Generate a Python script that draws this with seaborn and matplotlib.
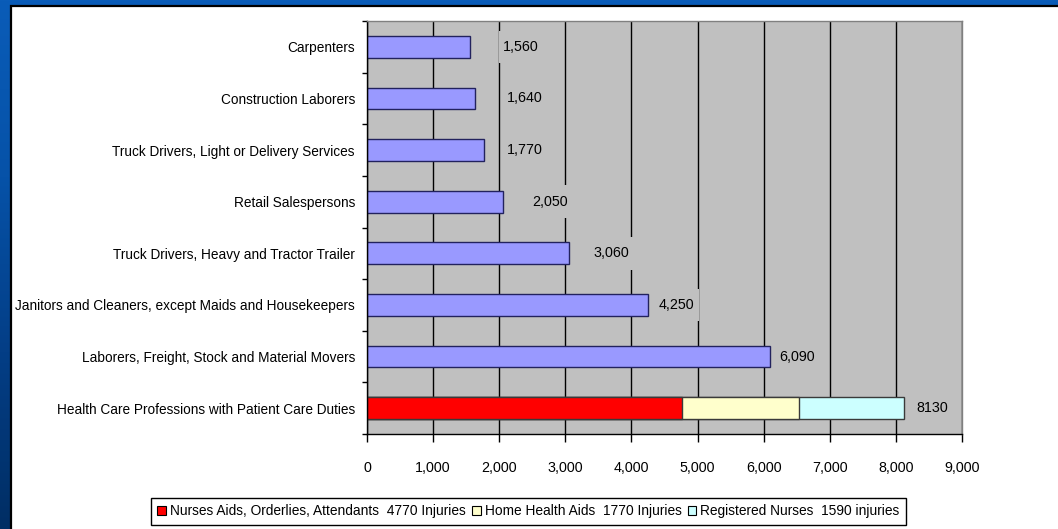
import numpy as np
import pandas as pd
import matplotlib
matplotlib.use("Agg")
import matplotlib.pyplot as plt
import matplotlib.patches as mpatches
from matplotlib.path import Path
from matplotlib.colors import LinearSegmentedColormap
from matplotlib import font_manager
import seaborn as sns

# ---- data -------------------------------------------------------------
occupations = [
    "Carpenters",
    "Construction Laborers",
    "Truck Drivers, Light or Delivery Services",
    "Retail Salespersons",
    "Truck Drivers, Heavy and Tractor Trailer",
    "Janitors and Cleaners, except Maids and Housekeepers",
    "Laborers, Freight, Stock and Material Movers",
]
injuries = [1560, 1640, 1770, 2050, 3060, 4250, 6090]

health_category = "Health Care Professions with Patient Care Duties"
health_segments = [
    "Nurses Aids, Orderlies, Attendants",
    "Home Health Aids",
    "Registered Nurses",
]
health_injuries = [4770, 1770, 1590]
health_units = ["Injuries", "Injuries", "injuries"]

x_ticks = [0, 1000, 2000, 3000, 4000, 5000, 6000, 7000, 8000, 9000]

# ---- styling ------------------------------------------------------------
bar_color = "#9999FF"
bar_edge = "#22225E"
health_colors = ["#FF0000", "#FFFFCC", "#CCFFFF"]
health_edge = "#3A3A3A"
plot_bg = "#C0C0C0"
# gap between bar end and its value label, in pixels
label_gap_px = [33, 31, 23, 30, 24, 11, 10, 12]

W, H, DPI = 1058, 529, 100
PX = 72.0 / DPI  # points per pixel

sns.set_theme(style="white")

available = {f.name for f in font_manager.fontManager.ttflist}
if "Liberation Sans Narrow" in available:
    family = ["Liberation Sans Narrow", "Liberation Sans", "DejaVu Sans"]
    scale = 1.0 / 0.82
else:
    family = ["Liberation Sans", "Arial", "DejaVu Sans"]
    scale = 1.0
plt.rcParams["font.family"] = family
plt.rcParams["text.color"] = "black"

fs_cat = 13.65 * PX * scale    # category names
fs_num = 14.2 * PX * scale     # tick numbers and value labels
fs_leg = 13.8 * PX * scale     # legend entries

fig = plt.figure(figsize=(W / DPI, H / DPI), dpi=DPI)

# slide background and white content panel
bg = fig.add_axes([0, 0, 1, 1], zorder=-10)
grad = np.linspace(0, 1, 256).reshape(-1, 1)
slide_cmap = LinearSegmentedColormap.from_list(
    "slide", ["#0A5CB8", "#0652A8", "#033E86", "#012E64"])
bg.imshow(grad, aspect="auto", cmap=slide_cmap, extent=[0, 1, 0, 1],
          origin="upper")
bg.add_patch(mpatches.Rectangle(
    (10.5 / W, -0.1), 1.2, (H - 6.5) / H + 0.1, transform=bg.transAxes,
    facecolor="white", edgecolor="black", linewidth=1.6, clip_on=False))
bg.set_xlim(0, 1)
bg.set_ylim(0, 1)
bg.axis("off")

# chart area
ax = fig.add_axes([367 / W, 1 - 434 / H, (962 - 367) / W, (434 - 21) / H])
ax.set_facecolor(plot_bg)

order = occupations + [health_category]
df = pd.DataFrame({"occupation": occupations, "injuries": injuries})
sns.barplot(data=df, x="injuries", y="occupation", order=order, orient="h",
            color=bar_color, saturation=1, edgecolor=bar_edge, linewidth=1.0,
            width=0.42, errorbar=None, ax=ax)

# stacked health-care bar: draw running totals from the longest down
cumulative = np.cumsum(health_injuries)
stack = pd.DataFrame({"occupation": [health_category] * len(health_segments),
                      "segment": health_segments,
                      "cumulative": cumulative})
for idx in range(len(stack) - 1, -1, -1):
    sns.barplot(data=stack.iloc[[idx]], x="cumulative", y="occupation",
                order=order, orient="h", color=health_colors[idx],
                saturation=1, edgecolor=health_edge, linewidth=1.0,
                width=0.42, errorbar=None, ax=ax)

ax.set_xlabel("")
ax.set_ylabel("")
ax.set_xlim(x_ticks[0], x_ticks[-1])
ax.set_ylim(len(order) - 0.5, -0.5)

# axes, ticks and grid
ax.set_xticks(x_ticks)
ax.set_xticklabels([f"{v:,.0f}" for v in x_ticks])
ax.set_yticks(np.arange(len(order) + 1) - 0.5)
ax.set_yticklabels([])
ax.set_yticks(np.arange(len(order)), labels=order, minor=True)
ax.tick_params(axis="x", which="major", bottom=True, length=8 * PX,
               width=1.0, color="black", direction="out", pad=19 * PX,
               labelsize=fs_num, labelcolor="black")
ax.tick_params(axis="y", which="major", left=True, length=5 * PX,
               width=1.0, color="black", direction="out")
ax.tick_params(axis="y", which="minor", left=True, length=0,
               pad=12 * PX, labelsize=fs_cat, labelcolor="black")
ax.xaxis.grid(True, color="black", linewidth=1.0)
ax.yaxis.grid(False)
ax.set_axisbelow(True)
for side in ("left", "bottom"):
    ax.spines[side].set_color("black")
    ax.spines[side].set_linewidth(1.0)
for side in ("top", "right"):
    ax.spines[side].set_color("#808080")
    ax.spines[side].set_linewidth(1.0)
    ax.spines[side].set_visible(True)


def label_box(x0, y0, width, height, mutation_size):
    """Data-label backdrop: narrow side margins, tall top/bottom margins."""
    px = 0.28 * mutation_size
    py = 0.65 * mutation_size
    xa, xb = x0 - px, x0 + width + px
    ya, yb = y0 - py, y0 + height + py
    return Path([(xa, ya), (xb, ya), (xb, yb), (xa, yb), (xa, ya)],
                closed=True)


label_values = injuries + [int(cumulative[-1])]
label_texts = [f"{v:,.0f}" for v in injuries] + [f"{int(cumulative[-1])}"]
for i, (v, txt) in enumerate(zip(label_values, label_texts)):
    ax.annotate(txt, xy=(v, i), xytext=(label_gap_px[i] * PX, 0),
                textcoords="offset points", ha="left", va="center",
                fontsize=fs_num, color="black",
                bbox=dict(boxstyle=label_box, facecolor=plot_bg,
                          edgecolor="none"))

# legend for the stacked segments
handles = [mpatches.Patch(facecolor=c, edgecolor="black", linewidth=0.8)
           for c in health_colors]
labels = [f"{n}  {v} {u}"
          for n, v, u in zip(health_segments, health_injuries, health_units)]
leg = fig.legend(handles, labels, loc="center",
                 bbox_to_anchor=(528.5 / W, 1 - 511.5 / H), ncol=3,
                 frameon=True, fancybox=False, edgecolor="black",
                 framealpha=1, fontsize=fs_leg, handlelength=0.62,
                 handleheight=0.62, handletextpad=0.3, columnspacing=0.45,
                 borderpad=0.45, borderaxespad=0)
leg.get_frame().set_linewidth(1.0)
leg.get_frame().set_facecolor("white")

fig.savefig("out.png", dpi=DPI)
